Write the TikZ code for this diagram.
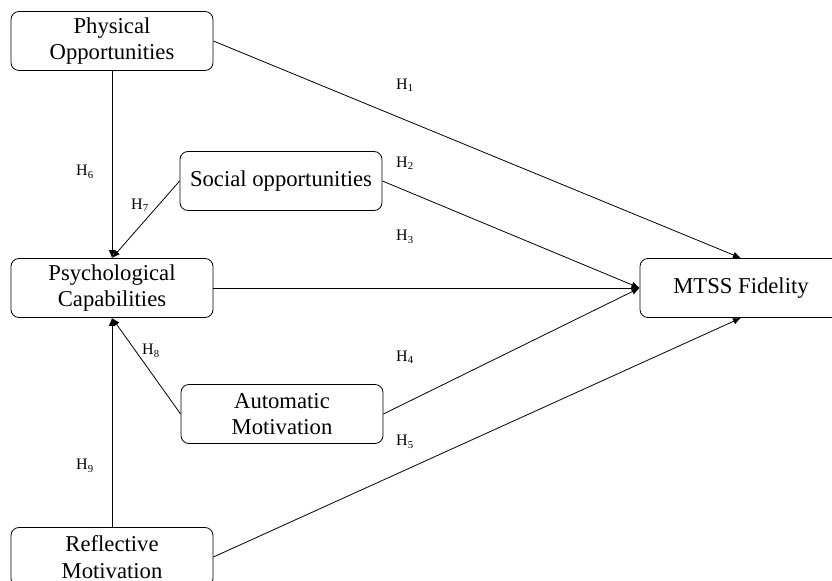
\documentclass[tikz,border=0pt]{standalone}
\usepackage{fontspec}
\setmainfont{Liberation Serif}
\usetikzlibrary{arrows.meta}

\tikzset{
  factor/.style={draw, line width=0.6pt, rounded corners=6pt, minimum width=151.5pt,
    minimum height=44.25pt, inner sep=1pt, align=center,
    font=\fontsize{17}{20}\selectfont},
  hyp/.style={font=\fontsize{12}{14}\selectfont},
  link/.style={line width=0.6pt, -{Latex[length=6pt, width=5pt]}}
}

\begin{document}
\begin{tikzpicture}[x=0.75pt, y=-0.75pt]
  \useasboundingbox (0, 0) rectangle (832, 581);
  \node[factor] (po) at (112, 41) {Physical\\Opportunities};
  \node[factor] (so) at (281, 181) {Social opportunities};
  \node[factor] (pc) at (112, 288) {Psychological\\Capabilities};
  \node[factor] (am) at (282, 414) {Automatic\\Motivation};
  \node[factor] (rm) at (112, 557) {Reflective\\Motivation};
  \node[factor] (mf) at (741, 288) {MTSS Fidelity};
  \draw[link] (po.east) -- (mf.north);
  \draw[link] (so.east) -- (mf.west);
  \draw[link] (pc.east) -- (mf.west);
  \draw[link] (am.east) -- (mf.west);
  \draw[link] (rm.east) -- (mf.south);
  \draw[link] (po.south) -- (pc.north);
  \draw[link] (so.west) -- (pc.north);
  \draw[link] (am.west) -- (pc.south);
  \draw[link] (rm.north) -- (pc.south);
  \node[hyp] (h1) at (405, 85) {H\textsubscript{1}};
  \node[hyp] (h2) at (405, 163) {H\textsubscript{2}};
  \node[hyp] (h3) at (405, 237) {H\textsubscript{3}};
  \node[hyp] (h4) at (405, 357) {H\textsubscript{4}};
  \node[hyp] (h5) at (405, 442) {H\textsubscript{5}};
  \node[hyp] (h6) at (85, 172) {H\textsubscript{6}};
  \node[hyp] (h7) at (140, 205) {H\textsubscript{7}};
  \node[hyp] (h8) at (151, 351) {H\textsubscript{8}};
  \node[hyp] (h9) at (85, 466) {H\textsubscript{9}};
\end{tikzpicture}
\end{document}
